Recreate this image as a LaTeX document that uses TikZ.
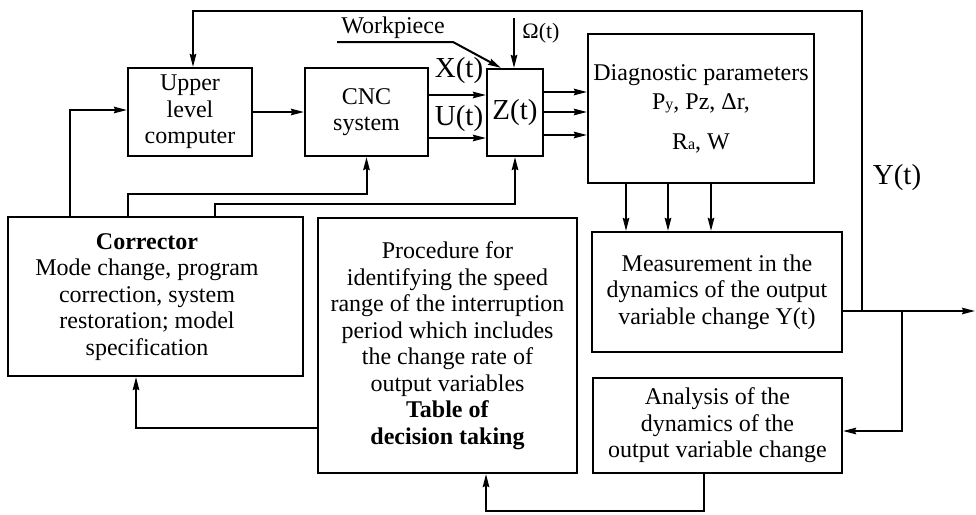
\documentclass[tikz,border=0pt]{standalone}
\usepackage{fontspec}
\setmainfont{Liberation Serif}
\usetikzlibrary{arrows.meta}
\newcommand\mainfs{\fontsize{24}{26.5}\selectfont}
\newcommand\bigfs{\fontsize{29}{32}\selectfont}
\newcommand\omfs{\fontsize{22}{24}\selectfont}
\newcommand\subfs{\fontsize{16}{16}\selectfont}
\begin{document}
\begin{tikzpicture}[x=1pt,y=-1pt,
  box/.style={draw,line width=2.2pt,inner sep=0pt,align=center,font=\mainfs},
  txt/.style={inner sep=0pt,align=center,font=\mainfs},
  ln/.style={line width=2pt},
  arr/.style={ln,-{Stealth[length=13pt,width=6.5pt,inset=1.5pt]}},
  lab/.style={inner sep=0pt,font=\bigfs}]
\useasboundingbox (0,0) rectangle (976,514);

% boxes
\node[box,minimum width=124pt,minimum height=88pt] (upc) at (190,112) {Upper\\level\\computer};
\node[box,minimum width=123pt,minimum height=88pt] (cnc) at (366.5,112) {CNC\\system};
\node[box,minimum width=56pt,minimum height=87pt,font=\bigfs] (zt) at (515,112.5) {Z(t)};
\node[box,minimum width=226pt,minimum height=149pt] (diag) at (701,108.5) {Diagnostic parameters\\[2.5pt] P{\subfs y}, Pz, Δr,\\[13.5pt] R{\subfs a}, W};
\node[box,minimum width=295pt,minimum height=159pt] (corr) at (155.5,296.5) {};
\node[txt] (corrtxt) at (147,297) {\textbf{Corrector}\\Mode change, program\\correction, system\\restoration; model\\specification};
\node[box,minimum width=259pt,minimum height=255pt] (proc) at (447.5,345.5) {Procedure for\\identifying the speed\\range of the interruption\\period which includes\\the change rate of\\output variables\\\textbf{Table of}\\\textbf{decision taking}};
\node[box,minimum width=250pt,minimum height=120pt] (meas) at (717,292) {Measurement in the\\dynamics of the output\\variable change Y(t)};
\node[box,minimum width=249pt,minimum height=95pt] (anal) at (717.5,425.5) {Analysis of the\\dynamics of the\\output variable change};

% labels
\node[lab] (xl) at (459,71) {X(t)};
\node[lab] (ul) at (459,119) {U(t)};
\node[lab] (yl) at (897,178) {Y(t)};
\node[inner sep=0pt,font=\omfs] (oml) at (541,33) {Ω(t)};
\node[txt] (wp) at (393,28) {Workpiece};

% routing coordinates
\coordinate (jY) at (862,311);
\coordinate (topR) at (862,11);
\coordinate (jA) at (902,311);
\coordinate (outE) at (975,311);
\coordinate (aA) at (902,431);
\coordinate (k0) at (70,110);
\coordinate (k1) at (128,194);
\coordinate (k2) at (215,204);
\coordinate (xy) at (0,95);
\coordinate (uy) at (0,138);
\coordinate (z1) at (0,92);
\coordinate (z2) at (0,112);
\coordinate (z3) at (0,135);
\coordinate (d1) at (626,0);
\coordinate (d2) at (668,0);
\coordinate (d3) at (711,0);
\coordinate (wpL) at (337,42);
\coordinate (wpM) at (453,42);
\coordinate (om) at (514,18);
\coordinate (bb) at (704,511);
\coordinate (bc) at (486,511);
\coordinate (pc) at (136,428);

% connectors
\draw[arr] (jY) -- (topR) -| ([xshift=3pt]upc.north);
\draw[arr] (corr.north -| k0) -- (k0) -- (upc.west |- k0);
\draw[arr] (upc.east) -- (cnc.west);
\draw[arr] (corr.north -| k1) -- (k1) -| (cnc.south);
\draw[arr] (corr.north -| k2) -- (k2) -| (zt.south);
\draw[arr] (cnc.east |- xy) -- (zt.west |- xy);
\draw[arr] (cnc.east |- uy) -- (zt.west |- uy);
\draw[arr] (zt.east |- z1) -- (diag.west |- z1);
\draw[arr] (zt.east |- z2) -- (diag.west |- z2);
\draw[arr] (zt.east |- z3) -- (diag.west |- z3);
\draw[arr] (wpL) -- (wpM) -- ([xshift=15pt]zt.north west);
\draw[arr] (om) -- (om |- zt.north);
\draw[arr] (diag.south -| d1) -- (meas.north -| d1);
\draw[arr] (diag.south -| d2) -- (meas.north -| d2);
\draw[arr] (diag.south -| d3) -- (meas.north -| d3);
\draw[arr] (meas.east |- jY) -- (outE);
\draw[arr] (jA) -- (aA) -- (anal.east |- aA);
\draw[arr] (anal.south -| bb) -- (bb) -- (bc) -- (proc.south -| bc);
\draw[arr] (proc.west |- pc) -- (pc) -- (corr.south -| pc);
\end{tikzpicture}
\end{document}
